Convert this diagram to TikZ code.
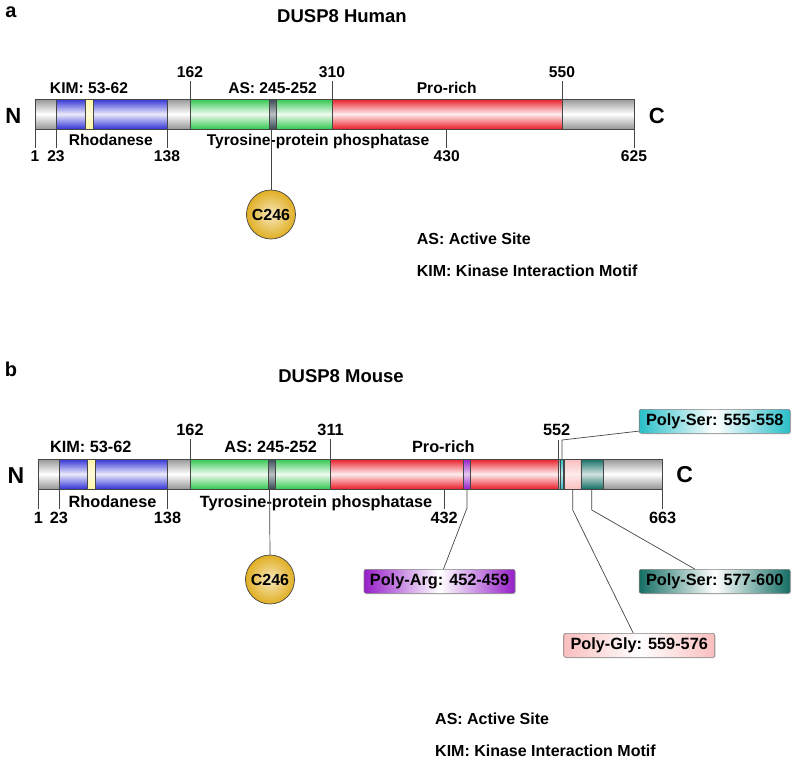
\documentclass[tikz,border=0pt]{standalone}
\usepackage{fontspec}
\setmainfont{Liberation Sans}
\usetikzlibrary{shadows}
\definecolor{cgray}{RGB}{150,150,150}
\definecolor{cblue}{RGB}{50,50,215}
\definecolor{cgreen}{RGB}{50,200,80}
\definecolor{cred}{RGB}{235,30,40}
\definecolor{cyel}{RGB}{255,245,165}
\definecolor{cas}{RGB}{55,75,85}
\definecolor{cpur}{RGB}{150,30,200}
\definecolor{ccyan}{RGB}{40,190,200}
\definecolor{cteal}{RGB}{20,110,100}
\definecolor{cpink}{RGB}{250,190,190}
\definecolor{cgold}{RGB}{225,175,35}
\definecolor{cline}{RGB}{70,70,70}
\tikzset{
  seg/.style={draw=cline, line width=0.7pt},
  sgray/.style={seg, top color=cgray, bottom color=cgray, middle color=white},
  sblue/.style={seg, top color=cblue, bottom color=cblue, middle color=cblue!10!white},
  sgreen/.style={seg, top color=cgreen, bottom color=cgreen, middle color=cgreen!8!white},
  sred/.style={seg, top color=cred, bottom color=cred, middle color=cred!8!white},
  syel/.style={seg, top color=cyel, bottom color=cyel, middle color=cyel!40!white},
  sas/.style={seg, top color=cas, bottom color=cas, middle color=cas!35!white},
  spur/.style={seg, top color=cpur, bottom color=cpur, middle color=cpur!25!white},
  scyan/.style={seg, top color=ccyan, bottom color=ccyan, middle color=ccyan!30!white},
  steal/.style={seg, top color=cteal, bottom color=cteal, middle color=cteal!20!white},
  spink/.style={seg, top color=cpink, bottom color=cpink, middle color=cpink!30!white},
  tick/.style={draw=cline, line width=0.7pt},
  hl/.style={font=\fontsize{15.6}{18}\selectfont\bfseries, inner sep=0pt, anchor=base},
  ml/.style={font=\fontsize{16.3}{19}\selectfont\bfseries, inner sep=0pt, anchor=base},
  ttl/.style={font=\fontsize{18.5}{22}\selectfont\bfseries, inner sep=0pt, anchor=base},
  big/.style={font=\fontsize{22}{26}\selectfont\bfseries, inner sep=0pt, anchor=base},
  panel/.style={font=\fontsize{20}{24}\selectfont\bfseries, inner sep=0pt, anchor=base},
  leg/.style={font=\fontsize{16}{19}\selectfont\bfseries, inner sep=0pt, anchor=base west},
  cys/.style={circle, draw=cline, line width=0.7pt, minimum size=49pt, inner sep=0pt,
    inner color=cgold!30!white, outer color=cgold, font=\fontsize{16}{19}\selectfont\bfseries},
  pbox/.style={draw=black!50, line width=0.6pt, rounded corners=2pt, minimum width=151pt,
    minimum height=24pt, inner sep=0pt, font=\fontsize{16.3}{19}\selectfont\bfseries,
    drop shadow={shadow xshift=1pt, shadow yshift=-1pt, opacity=0.25}},
}
\begin{document}
\begin{tikzpicture}[x=1pt,y=-1pt]
\useasboundingbox[fill=white] (0,0) rectangle (797,763);

% ================= Panel a: Human =================
\node[panel] (pa) at (11,17) {a};
\node[ttl] (th) at (342,22.7) {DUSP8 Human};

% bar segments
\path[sgray]  (35,99) rectangle (56,129);
\path[sblue]  (56,99) rectangle (167,129);
\path[sgray]  (167,99) rectangle (190,129);
\path[sgreen] (190,99) rectangle (332,129);
\path[sred]   (332,99) rectangle (562,129);
\path[sgray]  (562,99) rectangle (634,129);
\path[syel]   (85,99) rectangle (93.5,129);
\path[sas]    (269.5,99) rectangle (276,129);
\draw[seg, fill=none] (35,99) rectangle (634,129);

\node[big] (hN) at (13.3,123.3) {N};
\node[big] (hC) at (656.7,123.3) {C};

% top labels
\node[hl] (hKIM) at (89,93.3) {KIM: 53-62};
\node[hl] (hAS) at (272.5,93.3) {AS: 245-252};
\node[hl] (hPro) at (446.7,93.3) {Pro-rich};
\node[hl] (h162) at (190,77.3) {162};
\node[hl] (h310) at (332,77.3) {310};
\node[hl] (h550) at (562,77.3) {550};
\coordinate (h162a) at (190,81); \coordinate (h162b) at (190,99);
\coordinate (h310a) at (332,81); \coordinate (h310b) at (332,99);
\coordinate (h550a) at (562,81); \coordinate (h550b) at (562,99);
\draw[tick] (h162a) -- (h162b);
\draw[tick] (h310a) -- (h310b);
\draw[tick] (h550a) -- (h550b);

% bottom labels
\node[hl] (hRho) at (110.8,145.7) {Rhodanese};
\node[hl] (hTyr) at (318,145.7) {Tyrosine-protein phosphatase};
\node[hl] (h1) at (35,161.7) {1};
\node[hl] (h23) at (56,161.7) {23};
\node[hl] (h138) at (167,161.7) {138};
\node[hl] (h430) at (446.7,161.7) {430};
\node[hl] (h625) at (634,161.7) {625};
\coordinate (h1a) at (35,129); \coordinate (h1b) at (35,148);
\coordinate (h23a) at (56,129); \coordinate (h23b) at (56,148);
\coordinate (h138a) at (167,129); \coordinate (h138b) at (167,148);
\coordinate (h430a) at (446.7,129); \coordinate (h430b) at (446.7,148);
\coordinate (h625a) at (634,129); \coordinate (h625b) at (634,148);
\draw[tick] (h1a) -- (h1b);
\draw[tick] (h23a) -- (h23b);
\draw[tick] (h138a) -- (h138b);
\draw[tick] (h430a) -- (h430b);
\draw[tick] (h625a) -- (h625b);

% C246
\node[cys] (hcys) at (271,214.5) {C246};
\coordinate (hasb) at (271,129);
\draw[tick] (hasb) -- (hcys.north);

% legend
\node[leg] (hleg1) at (416.7,244.6) {AS: Active Site};
\node[leg] (hleg2) at (416.7,276.6) {KIM: Kinase Interaction Motif};

% ================= Panel b: Mouse =================
\node[panel] (pb) at (11,376.5) {b};
\node[ttl] (tm) at (341,382.7) {DUSP8 Mouse};

\path[sgray]  (38.3,459) rectangle (59,489);
\path[sblue]  (59,459) rectangle (167.5,489);
\path[sgray]  (167.5,459) rectangle (190.1,489);
\path[sgreen] (190.1,459) rectangle (330.6,489);
\path[sred]   (330.6,459) rectangle (557.9,489);
\path[sgray]  (557.9,459) rectangle (560.7,489);
\path[scyan]  (560.7,459) rectangle (563.5,489);
\path[sgray]  (563.5,459) rectangle (564.7,489);
\path[spink]  (564.7,459) rectangle (580.9,489);
\path[steal]  (580.9,459) rectangle (603,489);
\path[sgray]  (603,459) rectangle (662.6,489);
\path[syel]   (87.3,459) rectangle (95.8,489);
\path[sas]    (268.4,459) rectangle (275,489);
\path[spur]   (463.6,459) rectangle (470.2,489);
\draw[seg, fill=none] (38.3,459) rectangle (662.6,489);

\node[big, font=\fontsize{23}{27}\selectfont\bfseries] (mN) at (16,483.5) {N};
\node[big, font=\fontsize{23}{27}\selectfont\bfseries] (mC) at (684.7,482.5) {C};

\node[ml] (mKIM) at (90.8,452.7) {KIM: 53-62};
\node[ml] (mAS) at (270.7,452.7) {AS: 245-252};
\node[ml] (mPro) at (443.3,452.7) {Pro-rich};
\node[ml] (m162) at (190,435.3) {162};
\node[ml] (m311) at (330.6,435.3) {311};
\node[ml] (m552) at (556.7,435.3) {552};
\coordinate (m162a) at (190.1,439); \coordinate (m162b) at (190.1,459);
\coordinate (m311a) at (330.6,439); \coordinate (m311b) at (330.6,459);
\coordinate (m552a) at (558.2,440); \coordinate (m552b) at (558.2,459);
\draw[tick] (m162a) -- (m162b);
\draw[tick] (m311a) -- (m311b);
\draw[tick] (m552a) -- (m552b);

\node[ml] (mRho) at (112.5,507.3) {Rhodanese};
\node[ml] (mTyr) at (316,507.3) {Tyrosine-protein phosphatase};
\node[ml] (m1) at (38.3,523.3) {1};
\node[ml] (m23) at (59,523.3) {23};
\node[ml] (m138) at (167.5,523.3) {138};
\node[ml] (m432) at (444.2,523.3) {432};
\node[ml] (m663) at (662.6,523.3) {663};
\coordinate (m1a) at (38.3,489); \coordinate (m1b) at (38.3,509);
\coordinate (m23a) at (59,489); \coordinate (m23b) at (59,509);
\coordinate (m138a) at (167.5,489); \coordinate (m138b) at (167.5,509);
\coordinate (m432a) at (444.2,489); \coordinate (m432b) at (444.2,509);
\coordinate (m663a) at (662.6,489); \coordinate (m663b) at (662.6,509);
\draw[tick] (m1a) -- (m1b);
\draw[tick] (m23a) -- (m23b);
\draw[tick] (m138a) -- (m138b);
\draw[tick] (m432a) -- (m432b);
\draw[tick] (m663a) -- (m663b);

\node[cys] (mcys) at (270,579.5) {C246};
\coordinate (masb) at (269.5,489);
\draw[tick] (masb) -- (mcys.north);

% callout boxes
\node[pbox, left color=ccyan, right color=ccyan, middle color=white] (ps1) at (714.7,421.3) {Poly-Ser: 555-558};
\node[pbox, left color=cpur, right color=cpur, middle color=white] (parg) at (439.5,581.3) {Poly-Arg: 452-459};
\node[pbox, left color=cpink, right color=cpink, middle color=white] (pgly) at (639.2,645.3) {Poly-Gly: 559-576};
\node[pbox, left color=cteal, right color=cteal, middle color=white] (ps2) at (714.7,581.3) {Poly-Ser: 577-600};

\coordinate (ps1a) at (562,459); \coordinate (ps1k) at (562,440);
\draw[tick] (ps1a) -- (ps1k) -- ([yshift=2.5pt]ps1.south west);
\coordinate (parga) at (467,489); \coordinate (pargk) at (467,508);
\draw[tick] (parga) -- (pargk) -- ([xshift=4pt]parg.north);
\coordinate (pglya) at (572.7,489); \coordinate (pglyk) at (572.7,510);
\draw[tick] (pglya) -- (pglyk) -- ([xshift=-6pt]pgly.north);
\coordinate (ps2a) at (591.8,489); \coordinate (ps2k) at (591.8,510);
\draw[tick] (ps2a) -- (ps2k) -- ([xshift=-20pt]ps2.north);

% legend
\node[leg] (mleg1) at (435,724) {AS: Active Site};
\node[leg] (mleg2) at (435,756.7) {KIM: Kinase Interaction Motif};
\end{tikzpicture}
\end{document}
